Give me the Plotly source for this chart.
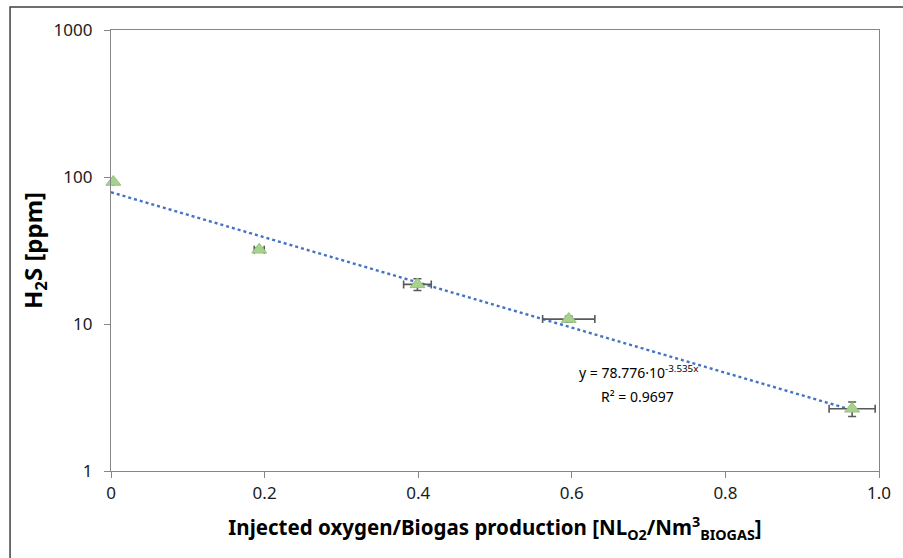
import numpy as np
import plotly.graph_objects as go

# Data
o2_ratio = [0.003, 0.193, 0.399, 0.596, 0.965]
h2s_ppm = [92.5, 32.0, 18.6, 10.8, 2.65]
o2_err = [0.0, 0.0065, 0.018, 0.034, 0.030]
h2s_err = [0.0, 1.0, 1.7, 0.5, 0.3]

# Trendline (as reported on the chart)
trend_a = 78.776
trend_b = 3.535
trend_label = "y = 78.776·10<sup>-3.535x</sup>"
r2_label = "R² = 0.9697"

x_ticks = [0, 0.2, 0.4, 0.6, 0.8, 1.0]
x_tick_text = ["0", "0.2", "0.4", "0.6", "0.8", "1.0"]
y_ticks = [1, 10, 100, 1000]
y_tick_text = ["1", "10", "100", "1000"]

FONT = "Noto Sans"
AXIS_COL = "#868686"

tx = np.linspace(0, max(o2_ratio), 100)
ty = trend_a * np.exp(-trend_b * tx)

fig = go.Figure()
fig.add_trace(go.Scatter(
    x=tx, y=ty, mode="lines",
    line=dict(color="#4472C4", width=2.4, dash="dot"),
    hoverinfo="skip", showlegend=False,
))
fig.add_trace(go.Scatter(
    x=o2_ratio, y=h2s_ppm, mode="markers", cliponaxis=False,
    marker=dict(symbol="triangle-up", size=13, color="#A9D18E",
                line=dict(color="#93C47D", width=1)),
    error_x=dict(type="data", array=o2_err, color="#595959", thickness=1.6, width=4),
    error_y=dict(type="data", array=h2s_err, color="#595959", thickness=1.6, width=4),
    showlegend=False,
))

fig.add_annotation(x=0.607, y=np.log10(4.7), xref="x", yref="y",
                   text=trend_label, showarrow=False, xanchor="left",
                   font=dict(family=FONT, size=14, color="#000000"))
fig.add_annotation(x=0.636, y=np.log10(3.2), xref="x", yref="y",
                   text=r2_label, showarrow=False, xanchor="left",
                   font=dict(family=FONT, size=14, color="#000000"))

# outer chart frame (partially cropped in the reference)
L, R, T, B = 111, 16, 30, 87
W, H = 903, 558
pw, ph = W - L - R, H - T - B
fig.add_shape(type="rect", xref="paper", yref="paper",
              x0=(9 - L) / pw, x1=(915 - L) / pw,
              y0=(H - B - 570) / ph, y1=(H - B - 7) / ph,
              line=dict(color="#3f3f3f", width=1.5), fillcolor="rgba(0,0,0,0)")

fig.update_layout(
    width=W, height=H,
    margin=dict(l=L, r=R, t=T, b=B),
    paper_bgcolor="white", plot_bgcolor="white",
    font=dict(family=FONT, color="#000000"),
    xaxis=dict(
        range=[0, 1.0], tickvals=x_ticks, ticktext=x_tick_text,
        showgrid=False, zeroline=False,
        showline=True, linecolor=AXIS_COL, linewidth=1.3, mirror=True,
        ticks="outside", ticklen=6, tickcolor=AXIS_COL,
        tickfont=dict(family=FONT, size=17, color="#1a1a1a"),
        title=dict(text="<b>Injected oxygen/Biogas production [NL<sub>O2</sub>/Nm<sup>3</sup><sub>BIOGAS</sub>]</b>",
                   font=dict(family=FONT, size=20.5, color="#000000"), standoff=18),
    ),
    yaxis=dict(
        type="log", range=[0, 3], tickvals=y_ticks, ticktext=y_tick_text,
        showgrid=False, zeroline=False,
        showline=True, linecolor=AXIS_COL, linewidth=1.3, mirror=True,
        ticks="outside", ticklen=6, tickcolor=AXIS_COL, ticklabelstandoff=8,
        tickfont=dict(family=FONT, size=17, color="#1a1a1a"),
        title=dict(text="<b>H<sub>2</sub>S [ppm]</b>",
                   font=dict(family=FONT, size=24, color="#000000"), standoff=4),
    ),
)

fig.write_html("out.html")
